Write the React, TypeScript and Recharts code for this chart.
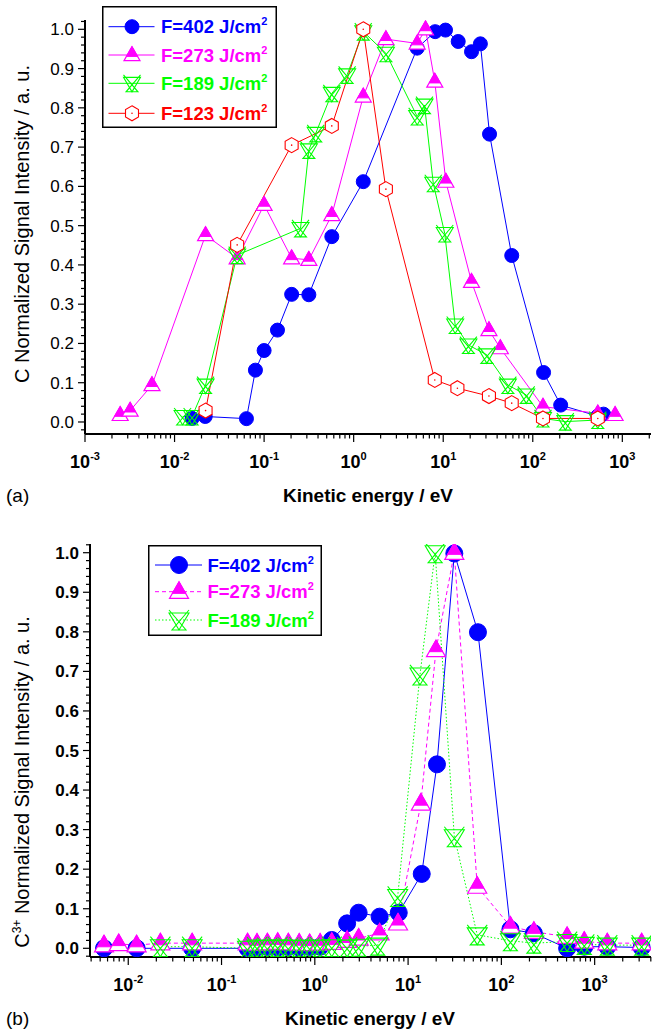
import { LineChart, Line, XAxis, YAxis, Label } from "recharts";

// (a) C ions – kinetic energy (eV) and normalized signal
const a402E = [0.0157, 0.022, 0.0635, 0.08, 0.1, 0.141, 0.203, 0.316, 0.57, 1.28, 5.12, 8.13, 10.6, 14.7, 20.7, 26, 32.9, 58.2, 132, 205, 532, 617];
const a402S = [0.009, 0.014, 0.0085, 0.132, 0.182, 0.234, 0.325, 0.324, 0.472, 0.612, 0.952, 0.994, 0.998, 0.969, 0.943, 0.963, 0.733, 0.424, 0.126, 0.043, 0.015, 0.02];

const a273E = [0.00247, 0.00319, 0.0056, 0.0222, 0.05, 0.1, 0.203, 0.316, 0.57, 1.28, 2.29, 5.12, 6.35, 8.05, 10.7, 20.7, 32.4, 43.4, 130, 532, 830];
const a273S = [0.018, 0.029, 0.094, 0.476, 0.417, 0.553, 0.417, 0.413, 0.527, 0.829, 0.975, 0.964, 1.0, 0.867, 0.612, 0.357, 0.234, 0.188, 0.039, 0.022, 0.018];

const a189E = [0.0123, 0.0157, 0.0222, 0.05, 0.255, 0.316, 0.377, 0.57, 0.845, 1.28, 2.29, 5.12, 6.18, 7.74, 10.4, 13.6, 19.1, 30.7, 52.7, 84.5, 130, 231, 532];
const a189S = [0.014, 0.014, 0.094, 0.425, 0.493, 0.693, 0.735, 0.837, 0.884, 0.994, 0.939, 0.778, 0.807, 0.608, 0.48, 0.247, 0.196, 0.171, 0.094, 0.069, 0.009, 0.001, 0.005];

const a123E = [0.0222, 0.05, 0.203, 0.57, 1.28, 2.29, 8.05, 14.4, 32.4, 58.2, 130, 532];
const a123S = [0.029, 0.451, 0.705, 0.754, 1.0, 0.593, 0.107, 0.086, 0.066, 0.048, 0.009, 0.009];

// (b) C3+ ions
const b402E = [0.0055, 0.0123, 0.0484, 0.19, 0.24, 0.31, 0.4, 0.52, 0.68, 0.88, 1.14, 1.52, 2.22, 2.95, 4.95, 7.94, 14, 20.4, 31.3, 56.1, 125, 223, 507, 774, 1365, 3190];
const b402S = [0, 0, 0, 0, 0.002, 0.003, 0.002, 0.003, 0.002, 0.003, 0.004, 0.021, 0.063, 0.09, 0.08, 0.09, 0.188, 0.465, 0.998, 0.799, 0.048, 0.038, 0.0, 0.004, 0.004, 0.002];

const b273E = [0.0055, 0.0079, 0.0123, 0.0221, 0.0484, 0.19, 0.24, 0.31, 0.4, 0.52, 0.68, 0.88, 1.14, 1.52, 2.22, 2.95, 4.95, 7.8, 13.7, 19.9, 31.3, 55.1, 125, 223, 507, 774, 1365, 3190];
const b273S = [0.008, 0.011, 0.008, 0.013, 0.013, 0.013, 0.012, 0.013, 0.014, 0.013, 0.012, 0.011, 0.012, 0.014, 0.019, 0.025, 0.038, 0.063, 0.366, 0.754, 1.0, 0.156, 0.055, 0.042, 0.029, 0.017, 0.013, 0.013];

const b189E = [0.0221, 0.0484, 0.19, 0.24, 0.31, 0.4, 0.52, 0.68, 0.88, 1.14, 1.52, 2.22, 2.95, 4.72, 7.73, 13.4, 19.5, 31.3, 55.1, 125, 223, 507, 774, 1365, 3190];
const b189S = [0.004, 0.004, 0.0, 0.003, 0.002, 0.004, 0.002, 0.003, 0.002, 0.003, 0.004, 0.003, 0.005, 0.008, 0.131, 0.691, 1.0, 0.282, 0.034, 0.019, 0.013, 0.017, 0.01, 0.008, 0.008];

const decades = [1e-3, 1e-2, 1e-1, 1, 10, 100, 1000];
const yMajor = [0, 0.1, 0.2, 0.3, 0.4, 0.5, 0.6, 0.7, 0.8, 0.9, 1.0];

const legendA = ["402", "273", "189", "123"];
const legendB = ["402", "273", "189"];

const BLUE = "#0000ff";
const MAGENTA = "#ff00ff";
const GREEN = "#00ff00";
const RED = "#ff0000";
const FONT = "'Liberation Sans', Arial, sans-serif";

const zip = (e: number[], s: number[]) => e.map((x, i) => ({ x, y: s[i] }));

const logTicks = (decs: number[], lo: number, hi: number) => {
  const out: number[] = [];
  decs.forEach((d) => {
    for (let m = 1; m <= 9; m++) {
      const v = m * d;
      if (v >= lo * 0.999 && v <= hi) out.push(v);
    }
  });
  return out;
};

// minor y ticks every 0.02
const yTicks: number[] = [];
for (let i = -1; i <= 51; i++) yTicks.push(Math.round(i * 2) / 100);

// ---------- markers ----------
const Dot = ({ cx, cy, r }: any) => <circle cx={cx} cy={cy} r={r} fill={BLUE} stroke={BLUE} />;

const HalfTri = ({ cx, cy, s }: any) => {
  const h = s * 1.75;
  const top = cy - h * 0.6;
  const base = cy + h * 0.4;
  const f = 0.7;
  const fy = top + h * f;
  return (
    <g>
      <polygon points={`${cx},${top} ${cx - s},${base} ${cx + s},${base}`} fill="#fff" stroke={MAGENTA} strokeWidth={1.2} />
      <polygon points={`${cx},${top} ${cx - s * f},${fy} ${cx + s * f},${fy}`} fill={MAGENTA} stroke={MAGENTA} strokeWidth={1} />
    </g>
  );
};

const XStar = ({ cx, cy, s }: any) => {
  const d =
    `M${cx - s},${cy - s * 0.7} L${cx + s},${cy - s * 0.7} L${cx},${cy + s} Z ` +
    `M${cx - s},${cy - s} L${cx + s * 0.7},${cy + s} L${cx - s * 0.7},${cy + s} L${cx + s},${cy - s}`;
  return <path d={d} fill="none" stroke={GREEN} strokeWidth={1.1} />;
};

const Hex = ({ cx, cy, r }: any) => {
  const pts = [0, 1, 2, 3, 4, 5]
    .map((k) => {
      const a = ((-90 + k * 60) * Math.PI) / 180;
      return `${cx + r * Math.cos(a)},${cy + r * Math.sin(a)}`;
    })
    .join(" ");
  return (
    <g>
      <polygon points={pts} fill="#fff" stroke={RED} strokeWidth={1.1} />
      <circle cx={cx} cy={cy} r={0.8} fill={RED} />
    </g>
  );
};

const markerFor = (key: string, cx: number, cy: number, big: boolean) => {
  if (key === "402") return <Dot cx={cx} cy={cy} r={big ? 8.5 : 7} />;
  if (key === "273") return <HalfTri cx={cx} cy={cy} s={big ? 9.5 : 8} />;
  if (key === "189") return <XStar cx={cx} cy={cy} s={big ? 10 : 8.5} />;
  return <Hex cx={cx} cy={cy} r={7.5} />;
};

const colorFor: Record<string, string> = { "402": BLUE, "273": MAGENTA, "189": GREEN, "123": RED };

// ---------- ticks ----------
const XTick = ({ x, y, payload }: any) => {
  const v = payload.value;
  const lg = Math.log10(v);
  const major = Math.abs(lg - Math.round(lg)) < 1e-6;
  return (
    <g>
      <line x1={x} y1={y} x2={x} y2={y + (major ? 8 : 4.5)} stroke="#000" strokeWidth={1.2} />
      {major && (
        <text x={x} y={y + 34} textAnchor="middle" fontFamily={FONT} fontWeight="bold" fontSize={18} fill="#000">
          10
          <tspan dy={-8} fontSize={11}>
            {Math.round(lg)}
          </tspan>
        </text>
      )}
    </g>
  );
};

const makeYTick = (bold: boolean) => ({ x, y, payload }: any) => {
  const v = payload.value;
  const major = yMajor.some((m) => Math.abs(m - v) < 1e-6);
  return (
    <g>
      <line x1={x} y1={y} x2={x - (major ? 7 : 4)} y2={y} stroke="#000" strokeWidth={1.2} />
      {major && (
        <text x={x - 11} y={y + 6} textAnchor="end" fontFamily={FONT} fontWeight={bold ? "bold" : "normal"} fontSize={17} fill="#000">
          {v.toFixed(1)}
        </text>
      )}
    </g>
  );
};

// ---------- legend ----------
const LegendBox = ({ keys, w, h, rows, lineX, markX, textX, big, dashes }: any) => (
  <svg width={w} height={h} style={{ display: "block" }}>
    <rect x={0.75} y={0.75} width={w - 1.5} height={h - 1.5} fill="#fff" stroke="#000" strokeWidth={1.5} />
    {keys.map((k: string, i: number) => (
      <g key={k}>
        <line x1={lineX[0]} x2={lineX[1]} y1={rows[i]} y2={rows[i]} stroke={colorFor[k]} strokeWidth={1} strokeDasharray={dashes ? dashes[i] : undefined} />
        {markerFor(k, markX, rows[i], big)}
        <text x={textX} y={rows[i] + 6.5} fontFamily={FONT} fontWeight="bold" fontSize={18.5} fill={colorFor[k]}>
          F={k} J/cm
          <tspan dy={-8} fontSize={11}>2</tspan>
        </text>
      </g>
    ))}
  </svg>
);

const dotRenderer = (key: string, big: boolean) => (p: any) => (
  <g key={`${key}-${p.index}`}>{markerFor(key, p.cx, p.cy, big)}</g>
);

const seriesA = [
  { key: "402", data: zip(a402E, a402S), dash: undefined },
  { key: "273", data: zip(a273E, a273S), dash: undefined },
  { key: "189", data: zip(a189E, a189S), dash: undefined },
  { key: "123", data: zip(a123E, a123S), dash: undefined },
];

const seriesB = [
  { key: "402", data: zip(b402E, b402S), dash: undefined },
  { key: "273", data: zip(b273E, b273S), dash: "4 3" },
  { key: "189", data: zip(b189E, b189S), dash: "1.5 2" },
];

const domainA: [number, number] = [0.001, 2090];
const domainB: [number, number] = [0.00389, 4018];

export default function App() {
  return (
    <div style={{ position: "absolute", left: 0, top: 0, width: 659, height: 1033, background: "#fff", fontFamily: FONT }}>
      {/* panel (a) */}
      <div style={{ position: "absolute", left: 0, top: 0 }}>
        <LineChart width={659} height={520} margin={{ top: 20, right: 8, bottom: 0, left: 0 }}>
          <XAxis
            dataKey="x"
            type="number"
            scale="log"
            domain={domainA}
            allowDataOverflow
            ticks={logTicks(decades, domainA[0], domainA[1])}
            interval={0}
            tickSize={0}
            tickMargin={0}
            tickLine={false}
            tick={XTick}
            axisLine={{ stroke: "#000", strokeWidth: 2 }}
            height={86}
          >
            <Label
              content={() => (
                <g>
                  <text x={368} y={502} textAnchor="middle" fontFamily={FONT} fontWeight="bold" fontSize={19}>
                    Kinetic energy / eV
                  </text>
                  <text x={6} y={502} fontFamily={FONT} fontSize={19}>
                    (a)
                  </text>
                </g>
              )}
            />
          </XAxis>
          <YAxis
            type="number"
            domain={[-0.0306, 1.0237]}
            allowDataOverflow
            ticks={yTicks}
            interval={0}
            tickSize={0}
            tickMargin={0}
            tickLine={false}
            tick={makeYTick(false)}
            axisLine={{ stroke: "#000", strokeWidth: 2 }}
            width={85}
          >
            <Label
              content={() => (
                <text x={29} y={224} transform="rotate(-90 29 224)" textAnchor="middle" fontFamily={FONT} fontSize={20}>
                  C Normalized Signal Intensity / a. u.
                </text>
              )}
            />
          </YAxis>
          {seriesA.map((s) => (
            <Line
              key={s.key}
              data={s.data}
              dataKey="y"
              type="linear"
              stroke={colorFor[s.key]}
              strokeWidth={1}
              dot={dotRenderer(s.key, false)}
              activeDot={false}
              isAnimationActive={false}
            />
          ))}
        </LineChart>
        <div style={{ position: "absolute", left: 102, top: 6 }}>
          <LegendBox
            keys={legendA}
            w={175}
            h={122}
            rows={[20.7, 49, 77.3, 107.3]}
            lineX={[6.5, 52.5]}
            markX={30}
            textX={59}
            big={false}
          />
        </div>
      </div>

      {/* panel (b) */}
      <div style={{ position: "absolute", left: 0, top: 520 }}>
        <LineChart width={659} height={513} margin={{ top: 24, right: 8, bottom: 0, left: 0 }}>
          <XAxis
            dataKey="x"
            type="number"
            scale="log"
            domain={domainB}
            allowDataOverflow
            ticks={logTicks(decades, domainB[0], domainB[1])}
            interval={0}
            tickSize={0}
            tickMargin={0}
            tickLine={false}
            tick={XTick}
            axisLine={{ stroke: "#000", strokeWidth: 2 }}
            height={76}
          >
            <Label
              content={() => (
                <g>
                  <text x={370} y={505} textAnchor="middle" fontFamily={FONT} fontWeight="bold" fontSize={19}>
                    Kinetic energy / eV
                  </text>
                  <text x={6} y={505} fontFamily={FONT} fontSize={19}>
                    (b)
                  </text>
                </g>
              )}
            />
          </XAxis>
          <YAxis
            type="number"
            domain={[-0.022, 1.022]}
            allowDataOverflow
            ticks={yTicks}
            interval={0}
            tickSize={0}
            tickMargin={0}
            tickLine={false}
            tick={makeYTick(true)}
            axisLine={{ stroke: "#000", strokeWidth: 2 }}
            width={90}
          >
            <Label
              content={() => (
                <text x={29} y={262} transform="rotate(-90 29 262)" textAnchor="middle" fontFamily={FONT} fontSize={20}>
                  C
                  <tspan dy={-8} fontSize={12}>3+</tspan>
                  <tspan dy={8}> Normalized Signal Intensity / a. u.</tspan>
                </text>
              )}
            />
          </YAxis>
          {seriesB.map((s) => (
            <Line
              key={s.key}
              data={s.data}
              dataKey="y"
              type="linear"
              stroke={colorFor[s.key]}
              strokeWidth={1}
              strokeDasharray={s.dash}
              dot={dotRenderer(s.key, true)}
              activeDot={false}
              isAnimationActive={false}
            />
          ))}
        </LineChart>
        <div style={{ position: "absolute", left: 148, top: 25 }}>
          <LegendBox
            keys={legendB}
            w={174}
            h={91}
            rows={[20, 46.7, 75]}
            lineX={[7, 54]}
            markX={31}
            textX={59.5}
            big={true}
            dashes={[undefined, "4 3", "1.5 2"]}
          />
        </div>
      </div>
    </div>
  );
}
